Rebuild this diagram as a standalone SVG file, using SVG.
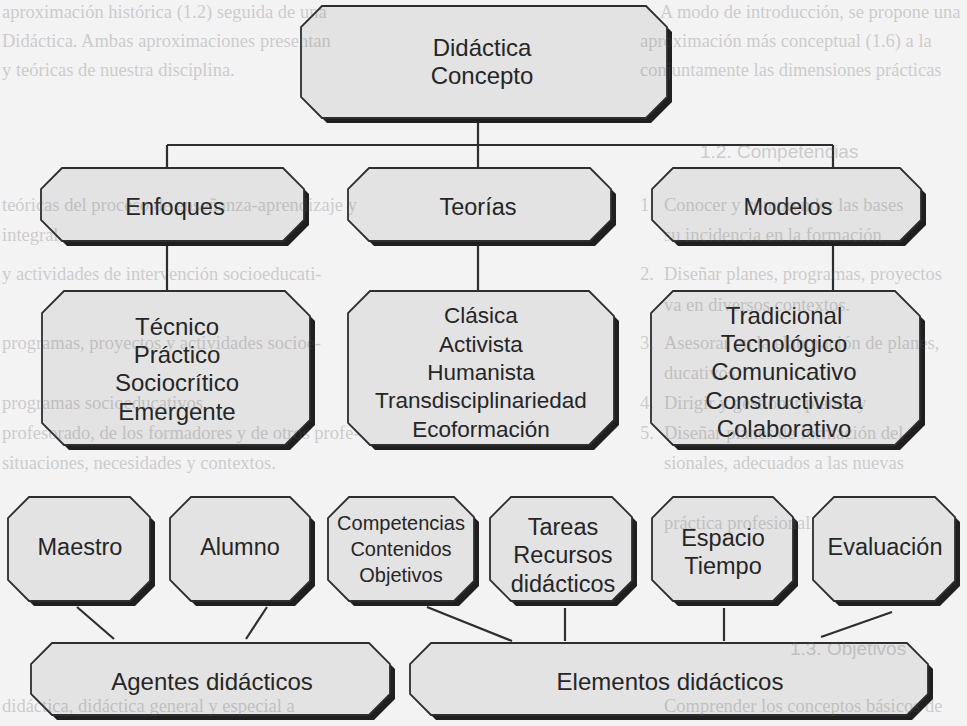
<svg xmlns="http://www.w3.org/2000/svg" width="967" height="726" viewBox="0 0 967 726">
  <style>
    .page { fill: #f3f3f3; }
    .shadow { fill: #1f1f1f; }
    .box { fill: #e3e3e3; stroke: #2e2e2e; stroke-width: 1.8; }
    .lbl { font-family: "Liberation Sans", Arial, sans-serif; fill: #262626; text-anchor: middle; }
    .wire { fill: none; stroke: #2e2e2e; stroke-width: 2.2; }
    .ghost { font-family: "Liberation Serif", "Times New Roman", serif; font-size: 18.5px; fill: #5c5c5c; }
    .ghost-h { font-family: "Liberation Sans", Arial, sans-serif; font-size: 19px; fill: #5c5c5c; }
  </style>

  <rect class="page" x="0" y="0" width="967" height="726"/>

  <!-- connectors -->
  <g id="connectors">
    <path class="wire" d="M478 121 V145 M167 145 H833 M167 145 V168 M478 145 V168 M833 145 V168"/>
    <path class="wire" d="M167 245 V291 M478 245 V291 M833 245 V291"/>
    <path class="wire" d="M77 607 L114 639 M267 607 L246 639 M427 607 L512 641 M565 608 V641 M724 608 V641 M892 612 L821 637"/>
  </g>

  <!-- Didáctica / Concepto -->
  <g id="n-didactica">
    <path class="shadow" d="M327 11 H651 L672 32 V102 L651 123 H327 L306 102 V32 Z"/>
    <path class="box" d="M322 6 H646 L667 27 V97 L646 118 H322 L301 97 V27 Z"/>
    <text class="lbl" x="482" y="56" font-size="24">Didáctica</text>
    <text class="lbl" x="482" y="84" font-size="24">Concepto</text>
  </g>

  <!-- second row -->
  <g id="n-enfoques">
    <path class="shadow" d="M67 173 H288 L309 194 V225 L288 246 H67 L46 225 V194 Z"/>
    <path class="box" d="M62 168 H283 L304 189 V220 L283 241 H62 L41 220 V189 Z"/>
    <text class="lbl" x="175" y="215" font-size="23.5">Enfoques</text>
  </g>
  <g id="n-teorias">
    <path class="shadow" d="M374 173 H595 L616 194 V225 L595 246 H374 L353 225 V194 Z"/>
    <path class="box" d="M369 168 H590 L611 189 V220 L590 241 H369 L348 220 V189 Z"/>
    <text class="lbl" x="478" y="215" font-size="23.5">Teorías</text>
  </g>
  <g id="n-modelos">
    <path class="shadow" d="M678 173 H905 L926 194 V225 L905 246 H678 L657 225 V194 Z"/>
    <path class="box" d="M673 168 H900 L921 189 V220 L900 241 H673 L652 220 V189 Z"/>
    <text class="lbl" x="788" y="215" font-size="23.5">Modelos</text>
  </g>

  <!-- third row -->
  <g id="n-enfoques-lista">
    <path class="shadow" d="M69 296 H290 L315 321 V425 L290 450 H69 L47 428 V318 Z"/>
    <path class="box" d="M64 291 H285 L310 316 V420 L285 445 H64 L42 423 V313 Z"/>
    <text class="lbl" x="177" y="335" font-size="24">Técnico</text>
    <text class="lbl" x="177" y="363" font-size="24">Práctico</text>
    <text class="lbl" x="177" y="391" font-size="24">Sociocrítico</text>
    <text class="lbl" x="177" y="420" font-size="24">Emergente</text>
  </g>
  <g id="n-teorias-lista">
    <path class="shadow" d="M375 296 H594 L619 321 V425 L594 450 H375 L353 428 V318 Z"/>
    <path class="box" d="M370 291 H589 L614 316 V420 L589 445 H370 L348 423 V313 Z"/>
    <text class="lbl" x="481" y="323" font-size="22.5">Clásica</text>
    <text class="lbl" x="481" y="352" font-size="22.5">Activista</text>
    <text class="lbl" x="481" y="380" font-size="22.5">Humanista</text>
    <text class="lbl" x="481" y="408" font-size="22.5">Transdisciplinariedad</text>
    <text class="lbl" x="481" y="437" font-size="22.5">Ecoformación</text>
  </g>
  <g id="n-modelos-lista">
    <path class="shadow" d="M678 296 H900 L925 321 V425 L900 450 H678 L656 428 V318 Z"/>
    <path class="box" d="M673 291 H895 L920 316 V420 L895 445 H673 L651 423 V313 Z"/>
    <text class="lbl" x="784" y="324" font-size="24">Tradicional</text>
    <text class="lbl" x="784" y="352" font-size="24">Tecnológico</text>
    <text class="lbl" x="784" y="380" font-size="24">Comunicativo</text>
    <text class="lbl" x="784" y="409" font-size="24">Constructivista</text>
    <text class="lbl" x="784" y="437" font-size="24">Colaborativo</text>
  </g>

  <!-- fourth row -->
  <g id="n-maestro">
    <path class="shadow" d="M34 502 H135 L155 522 V586 L135 606 H34 L13 585 V523 Z"/>
    <path class="box" d="M29 497 H130 L150 517 V581 L130 601 H29 L8 580 V518 Z"/>
    <text class="lbl" x="80" y="555" font-size="23.5">Maestro</text>
  </g>
  <g id="n-alumno">
    <path class="shadow" d="M196 502 H295 L315 522 V586 L295 606 H196 L175 585 V523 Z"/>
    <path class="box" d="M191 497 H290 L310 517 V581 L290 601 H191 L170 580 V518 Z"/>
    <text class="lbl" x="240" y="555" font-size="23.5">Alumno</text>
  </g>
  <g id="n-competencias">
    <path class="shadow" d="M354 502 H459 L479 522 V586 L459 606 H354 L333 585 V523 Z"/>
    <path class="box" d="M349 497 H454 L474 517 V581 L454 601 H349 L328 580 V518 Z"/>
    <text class="lbl" x="401" y="530" font-size="20">Competencias</text>
    <text class="lbl" x="401" y="556" font-size="20">Contenidos</text>
    <text class="lbl" x="401" y="582" font-size="20">Objetivos</text>
  </g>
  <g id="n-tareas">
    <path class="shadow" d="M516 502 H617 L637 522 V586 L617 606 H516 L495 585 V523 Z"/>
    <path class="box" d="M511 497 H612 L632 517 V581 L612 601 H511 L490 580 V518 Z"/>
    <text class="lbl" x="563" y="535" font-size="23.5">Tareas</text>
    <text class="lbl" x="563" y="563" font-size="23.5">Recursos</text>
    <text class="lbl" x="563" y="592" font-size="23.5">didácticos</text>
  </g>
  <g id="n-espacio">
    <path class="shadow" d="M678 502 H778 L798 522 V586 L778 606 H678 L657 585 V523 Z"/>
    <path class="box" d="M673 497 H773 L793 517 V581 L773 601 H673 L652 580 V518 Z"/>
    <text class="lbl" x="723" y="546" font-size="23.5">Espacio</text>
    <text class="lbl" x="723" y="574" font-size="23.5">Tiempo</text>
  </g>
  <g id="n-evaluacion">
    <path class="shadow" d="M839 502 H940 L960 522 V586 L940 606 H839 L818 585 V523 Z"/>
    <path class="box" d="M834 497 H935 L955 517 V581 L935 601 H834 L813 580 V518 Z"/>
    <text class="lbl" x="885" y="555" font-size="23.5">Evaluación</text>
  </g>

  <!-- bottom row -->
  <g id="n-agentes">
    <path class="shadow" d="M57 648 H374 L395 669 V699 L374 720 H57 L36 699 V669 Z"/>
    <path class="box" d="M52 643 H369 L390 664 V694 L369 715 H52 L31 694 V664 Z"/>
    <text class="lbl" x="212" y="690" font-size="24">Agentes didácticos</text>
  </g>
  <g id="n-elementos">
    <path class="shadow" d="M436 648 H912 L933 669 V699 L912 720 H436 L415 699 V669 Z"/>
    <path class="box" d="M431 643 H907 L928 664 V694 L907 715 H431 L410 694 V664 Z"/>
    <text class="lbl" x="670" y="690" font-size="24">Elementos didácticos</text>
  </g>

  <!-- faint page text showing through the sheet, over the chart; each line runs off the right edge and resumes at the left -->
  <g id="page-text" opacity="0.26">
    <text class="ghost" x="660" y="18">A modo de introducción, se propone una</text>
    <text class="ghost" x="2" y="18">aproximación histórica (1.2) seguida de una</text>
    <text class="ghost" x="640" y="47">aproximación más conceptual (1.6) a la</text>
    <text class="ghost" x="2" y="47">Didáctica. Ambas aproximaciones presentan</text>
    <text class="ghost" x="640" y="76">conjuntamente las dimensiones prácticas</text>
    <text class="ghost" x="2" y="76">y teóricas de nuestra disciplina.</text>

    <text class="ghost-h" x="700" y="158">1.2. Competencias</text>

    <text class="ghost" x="640" y="211">1.</text>
    <text class="ghost" x="664" y="211">Conocer y comprender las bases</text>
    <text class="ghost" x="2" y="211">teóricas del proceso de enseñanza-aprendizaje y</text>
    <text class="ghost" x="664" y="241">su incidencia en la formación</text>
    <text class="ghost" x="2" y="241">integral.</text>

    <text class="ghost" x="640" y="280">2.</text>
    <text class="ghost" x="664" y="280">Diseñar planes, programas, proyectos</text>
    <text class="ghost" x="2" y="280">y actividades de intervención socioeducati-</text>
    <text class="ghost" x="664" y="311">va en diversos contextos.</text>

    <text class="ghost" x="640" y="349">3.</text>
    <text class="ghost" x="664" y="349">Asesorar en la elaboración de planes,</text>
    <text class="ghost" x="2" y="349">programas, proyectos y actividades socioe-</text>
    <text class="ghost" x="664" y="379">ducativos.</text>

    <text class="ghost" x="640" y="409">4.</text>
    <text class="ghost" x="664" y="409">Dirigir y gestionar planes y</text>
    <text class="ghost" x="2" y="409">programas socioeducativos.</text>

    <text class="ghost" x="640" y="439">5.</text>
    <text class="ghost" x="664" y="439">Diseñar planes de formación del</text>
    <text class="ghost" x="2" y="439">profesorado, de los formadores y de otros profe-</text>
    <text class="ghost" x="664" y="469">sionales, adecuados a las nuevas</text>
    <text class="ghost" x="2" y="469">situaciones, necesidades y contextos.</text>

    <text class="ghost" x="664" y="529">práctica profesional.</text>

    <text class="ghost-h" x="790" y="655">1.3. Objetivos</text>

    <text class="ghost" x="664" y="712">Comprender los conceptos básicos de</text>
    <text class="ghost" x="2" y="712">didáctica, didáctica general y especial a</text>
  </g>
</svg>
